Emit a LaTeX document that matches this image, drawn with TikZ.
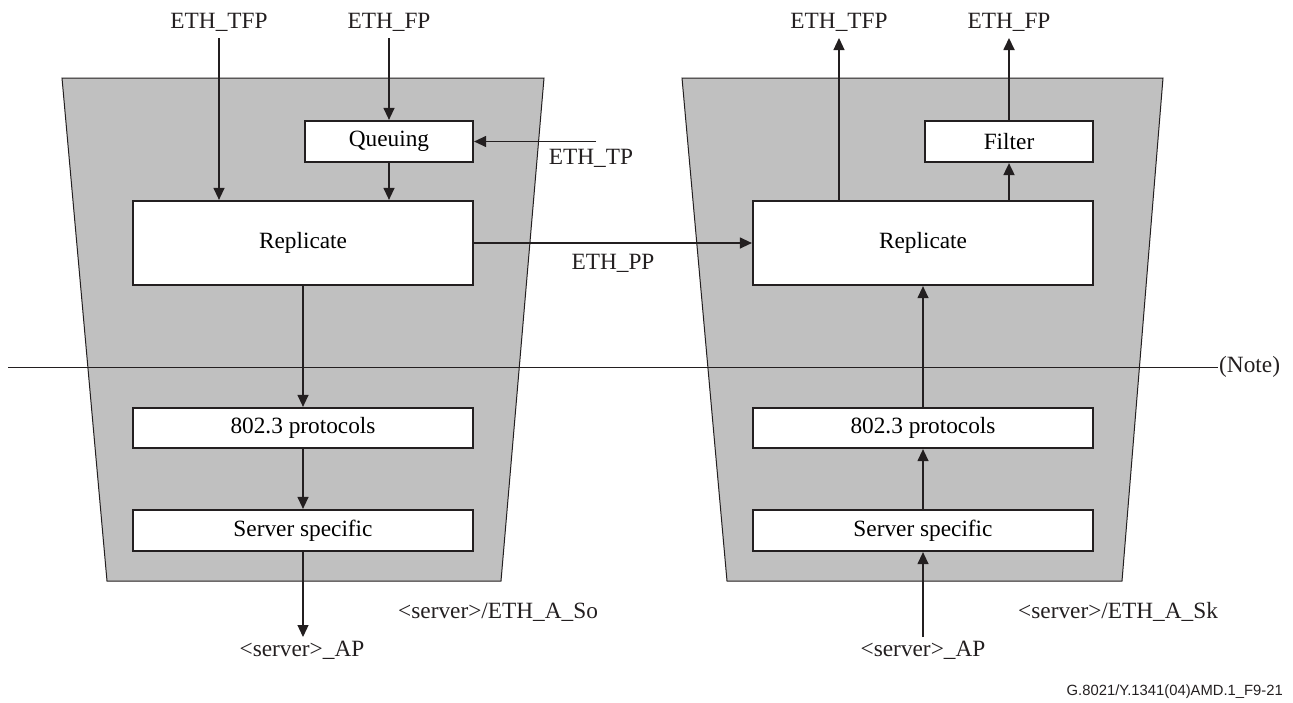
\documentclass[tikz,border=0pt]{standalone}
\usepackage{fontspec}
\setmainfont{Liberation Serif}
\newfontfamily\arialf{Liberation Sans}
\usetikzlibrary{arrows.meta}
\definecolor{trapgray}{HTML}{C0C0C0}
\definecolor{ink}{HTML}{231F20}
\tikzset{
  trap/.style={fill=trapgray, draw=ink, line width=1pt},
  box/.style={draw=ink, fill=white, line width=2.2pt, inner sep=0pt, font=\fontsize{23.3}{28}\selectfont},
  lbl/.style={inner sep=0pt, font=\fontsize{23.3}{28}\selectfont, text=ink},
  arr/.style={draw=ink, line width=1.2pt, -{Triangle[length=12pt,width=11pt]}},
  arrb/.style={draw=ink, line width=1.8pt, -{Triangle[length=12pt,width=11pt]}},
  thin/.style={draw=ink, line width=1pt}
}
\begin{document}
\begin{tikzpicture}[x=1pt,y=-1pt]
\useasboundingbox (0,0) rectangle (1293,702);
% trapezoids
\draw[trap] (62,78) -- (544,78) -- (501,581) -- (107,581) -- cycle;
\draw[trap] (682,78) -- (1163,78) -- (1122,581) -- (727,581) -- cycle;
% note line
\node[lbl, anchor=west, inner sep=1pt] (note) at (1218,367) {(Note)};
\coordinate (lineL) at (8,367);
\draw[thin] (lineL) -- (note.west);
% left boxes
\node[box, minimum width=168pt, minimum height=41pt] (queue) at (389,141.5) {Queuing};
\node[box, minimum width=340pt, minimum height=84pt] (repL) at (303,243) {Replicate};
\node[box, minimum width=340pt, minimum height=40pt] (protoL) at (303,428) {802.3 protocols};
\node[box, minimum width=340pt, minimum height=41pt] (servL) at (303,530.5) {Server specific};
% right boxes
\node[box, minimum width=168pt, minimum height=41pt] (filter) at (1009,141.5) {Filter};
\node[box, minimum width=340pt, minimum height=84pt] (repR) at (923,243) {Replicate};
\node[box, minimum width=340pt, minimum height=40pt] (protoR) at (923,428) {802.3 protocols};
\node[box, minimum width=340pt, minimum height=41pt] (servR) at (923,530.5) {Server specific};
% labels
\node[lbl] (tfpL) at (219,22) {ETH\_TFP};
\node[lbl] (fpL) at (389,22) {ETH\_FP};
\node[lbl] (tfpR) at (839,22) {ETH\_TFP};
\node[lbl] (fpR) at (1009,22) {ETH\_FP};
\node[lbl] (tp) at (591,158) {ETH\_TP};
\node[lbl] (pp) at (613,263) {ETH\_PP};
\node[lbl, anchor=west] (aso) at (398,612) {<server>/ETH\_A\_So};
\node[lbl, anchor=west] (ask) at (1018,612) {<server>/ETH\_A\_Sk};
\node[lbl] (apL) at (302,650) {<server>\_AP};
\node[lbl] (apR) at (923,650) {<server>\_AP};
\node[inner sep=0pt, anchor=east, font=\arialf\fontsize{14.8}{18}\selectfont, text=ink] (fig) at (1283,692) {G.8021/Y.1341(04)AMD.1\_F9-21};
% coordinates for free ends
\coordinate (tfpLs) at (219,38);
\coordinate (fpLs) at (389,38);
\coordinate (tpS) at (596,141.5);
\coordinate (apLt) at (303,637);
\coordinate (tfpRt) at (839,38);
\coordinate (fpRt) at (1009,38);
\coordinate (apRs) at (923,637);
% left connectors
\draw[arr] (tfpLs) -- (tfpLs |- repL.north);
\draw[arr] (fpLs) -- (queue.north);
\draw[arr] (queue.south) -- (queue.south |- repL.north);
\draw[arr] (tpS) -- (queue.east);
\draw[arr] (repL.south) -- (protoL.north);
\draw[arr] (protoL.south) -- (servL.north);
\draw[arr] (servL.south) -- (apLt);
% middle
\draw[arr] (repL.east) -- (repR.west);
% right connectors
\draw[arr] (tfpRt |- repR.north) -- (tfpRt);
\draw[arrb] (filter.south |- repR.north) -- (filter.south);
\draw[arrb] (filter.north) -- (fpRt);
\draw[arr] (servR.north) -- (protoR.south);
\draw[arr] (protoR.north) -- (repR.south);
\draw[arr] (apRs) -- (servR.south);
\end{tikzpicture}
\end{document}
